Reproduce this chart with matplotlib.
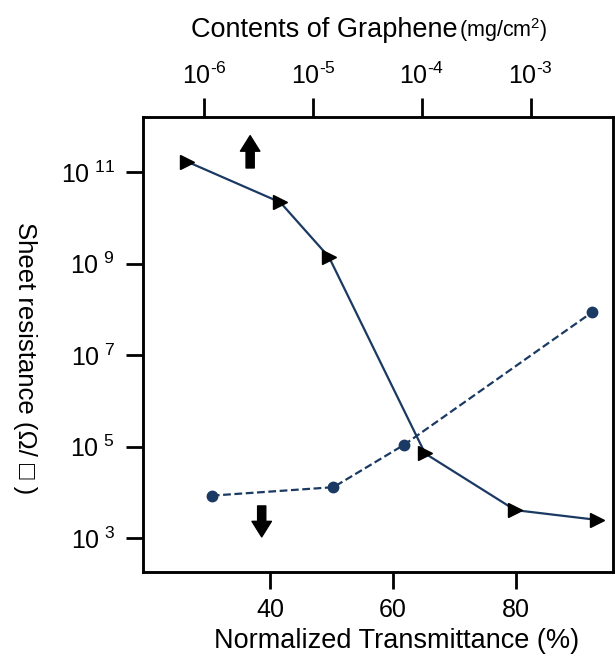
import matplotlib
matplotlib.use('Agg')
import matplotlib.pyplot as plt

plt.rcParams['font.family'] = ['Liberation Sans', 'DejaVu Sans']
plt.rcParams['mathtext.fontset'] = 'custom'
plt.rcParams['mathtext.rm'] = 'Liberation Sans'

# дані
transmittance = [30.5, 50.3, 61.8, 92.4]            # нижня вісь, %
circ_res = [8.5e3, 1.3e4, 1.1e5, 8.7e7]
graphene = [7.0e-7, 5.0e-6, 1.4e-5, 1.07e-4, 7.2e-4, 4.1e-3]   # верхня вісь, mg/cm2
tri_res = [1.7e11, 2.2e10, 1.4e9, 7.1e4, 4.1e3, 2.5e3]

bottom_ticks = [40, 60, 80]
top_ticks = [1e-6, 1e-5, 1e-4, 1e-3]
top_labels = ['$\\mathregular{10^{\u20106}}$', '$\\mathregular{10^{\u20105}}$',
              '$\\mathregular{10^{\u20104}}$', '$\\mathregular{10^{\u20103}}$']
y_ticks = [1e3, 1e5, 1e7, 1e9, 1e11]
y_labels = [r'$\mathregular{10^{\ 3}}$', r'$\mathregular{10^{\ 5}}$',
            r'$\mathregular{10^{\ 7}}$', r'$\mathregular{10^{\ 9}}$',
            r'$\mathregular{10^{\ 11}}$']

navy = '#1b3a63'

fig = plt.figure(figsize=(6.15, 6.62), dpi=100)
ax = fig.add_axes([0.2325, 0.136, 0.7642, 0.688])

ax.plot(transmittance, circ_res, '--', color=navy, lw=1.6, dashes=(3.5, 1.6),
        marker='o', markersize=7.5, markerfacecolor=navy, markeredgecolor=navy)
ax.set_yscale('log')
ax.set_xlim(19.3, 95.8)
ax.set_ylim(10**2.26, 10**12.22)
ax.set_xticks(bottom_ticks)
ax.set_yticks(y_ticks)
ax.set_yticklabels(y_labels)
ax.minorticks_off()
ax.tick_params(axis='both', direction='out', length=12, width=2, labelsize=18)
ax.tick_params(axis='x', pad=7)
ax.tick_params(axis='y', pad=8)
ax.set_xlabel('Normalized Transmittance (%)', fontsize=19.5)
ax.xaxis.set_label_coords(0.54, -0.122)
ax.set_ylabel('Sheet resistance (Ω/ □ )', fontsize=18.5, rotation=270, va='center')
ax.yaxis.set_label_coords(-0.251, 0.469)
for s in ax.spines.values():
    s.set_linewidth(1.8)

ax2 = ax.twiny()
ax2.plot(graphene, tri_res, '-', color=navy, lw=1.6,
         marker='>', markersize=10.5, markerfacecolor='black', markeredgecolor='black')
ax2.set_xscale('log')
ax2.set_xlim(10**-6.563, 10**-2.244)
ax2.set_xticks(top_ticks)
ax2.set_xticklabels(top_labels)
ax2.minorticks_off()
ax2.tick_params(axis='x', direction='out', length=14, width=2, labelsize=18, pad=6)
for s in ax2.spines.values():
    s.set_linewidth(1.8)

# стрілки, що вказують на відповідну вісь
arrow = dict(arrowstyle='simple,head_width=1.0,head_length=0.8,tail_width=0.42',
             color='black', mutation_scale=14, shrinkA=0, shrinkB=0)
ax.annotate('', xy=(0.228, 0.958), xytext=(0.228, 0.887), xycoords='axes fraction',
            arrowprops=arrow)
ax.annotate('', xy=(0.2526, 0.077), xytext=(0.2526, 0.145), xycoords='axes fraction',
            arrowprops=arrow)

fig.text(458 / 615, 0.944, 'Contents of Graphene', ha='right', va='baseline', fontsize=19.5)
fig.text(459 / 615, 0.944, r'(mg/cm$\mathregular{^2}$)', ha='left', va='baseline', fontsize=15.5)

fig.savefig('out.png', dpi=100)
